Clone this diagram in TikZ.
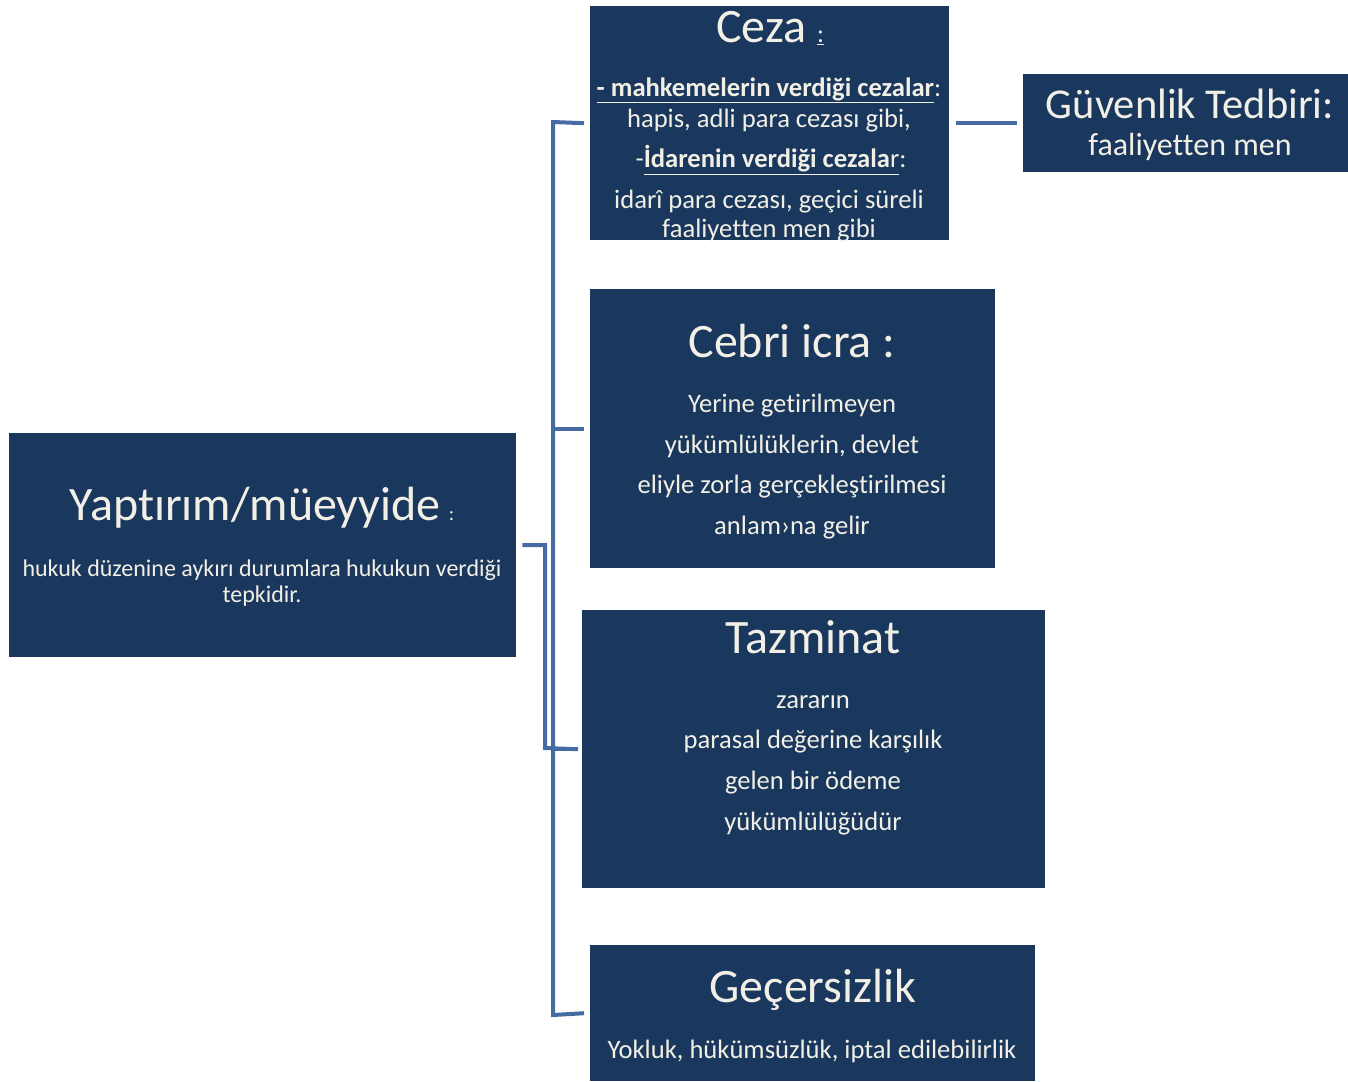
\documentclass[tikz,border=0pt]{standalone}
\usepackage{fontspec}
\setmainfont{Carlito}[RawFeature={-liga;-clig;-calt;-dlig}]
\usepackage{tikz}
\definecolor{nv}{RGB}{26, 55, 93}
\definecolor{ln}{RGB}{68, 108, 162}
\definecolor{tx}{RGB}{242, 240, 230}

\begin{document}
\begin{tikzpicture}[box/.style={anchor=north west, fill=nv, draw=none, inner sep=0pt},
  txt/.style={color=tx, inner sep=0pt, align=center},
  big/.style={txt, font=\fontsize{48}{54}\selectfont},
  small/.style={txt, font=\fontsize{26.6}{30}\selectfont},
  conn/.style={line width=4pt, color=ln}]
\useasboundingbox (0pt, 0pt) rectangle (1348pt, -1081pt);
\node (ceza) [box, minimum width=359pt, minimum height=234pt] at (590pt, -6pt) {};
\node (guv) [box, minimum width=325pt, minimum height=98pt] at (1023pt, -74pt) {};
\node (cebri) [box, minimum width=405pt, minimum height=279pt] at (590pt, -289pt) {};
\node (taz) [box, minimum width=463pt, minimum height=278pt] at (582pt, -610pt) {};
\node (gec) [box, minimum width=445pt, minimum height=136pt] at (590pt, -945pt) {};
\node (yap) [box, minimum width=507pt, minimum height=224pt] at (9pt, -433pt) {};
% spine
\coordinate (sT) at (553pt, -122pt);
\coordinate (sB) at (553pt, -1015pt);
\coordinate (kT) at (545pt, -545pt);
\coordinate (kB) at (545pt, -748pt);
\draw [conn] ([xshift=-6pt]ceza.west) -- (sT) -- (sB) -- ([xshift=-6pt]gec.west);
\draw [conn] (sT |- cebri.west) -- ([xshift=-6pt]cebri.west);
\draw [conn] (sT |- taz.west) -- ([xshift=-4pt]taz.west);
\draw [conn] ([xshift=6pt]yap.east) -- (kT) -- (kB) -- ([xshift=-4pt]taz.west);
\draw [conn] ([xshift=7pt]ceza.east) -- ([xshift=-6pt]guv.west);
% texts
\node (cezaA) [big] at (770pt, -28pt) {Ceza {\fontsize{26}{30}\selectfont\underline{:}}};
\node (cezaB) [small] at (769pt, -90pt) {\underline{\textbf{- mahkemelerin verdiği cezalar}}:};
\node (cezaC) [small] at (769pt, -121pt) {hapis, adli para cezası gibi,};
\node (cezaD) [small] at (771pt, -160pt) {-\underline{\textbf{İdarenin verdiği cezala}r}:};
\node (cezaE) [small] at (769pt, -202pt) {idarî para cezası, geçici süreli};
\node (cezaF) [small] at (769pt, -231pt) {faaliyetten men gibi};
\node (guvA) [txt, font=\fontsize{42.5}{48}\selectfont] at (1190pt, -104pt) {Güvenlik Tedbiri:};
\node (guvB) [txt, font=\fontsize{32}{36}\selectfont] at (1190pt, -147pt) {faaliyetten men};
\node (cebriA) [big] at (792pt, -341pt) {Cebri icra :};
\node (cebriB) [small] at (792pt, -406pt) {Yerine getirilmeyen};
\node (cebriC) [small] at (792pt, -446pt) {yükümlülüklerin, devlet};
\node (cebriD) [small] at (792pt, -487pt) {eliyle zorla gerçekleştirilmesi};
\node (cebriE) [small] at (792pt, -528pt) {anlam›na gelir};
\node (tazA) [big] at (813pt, -637pt) {Tazminat};
\node (tazB) [small] at (813pt, -702pt) {zararın};
\node (tazC) [small] at (813pt, -742pt) {parasal değerine karşılık};
\node (tazD) [small] at (813pt, -783pt) {gelen bir ödeme};
\node (tazE) [small] at (813pt, -824pt) {yükümlülüğüdür};
\node (gecA) [big] at (813pt, -990pt) {Geçersizlik};
\node (gecB) [small] at (812pt, -1051pt) {Yokluk, hükümsüzlük, iptal edilebilirlik};
\node (yapA) [big] at (262pt, -508pt) {Yaptırım/müeyyide\,{\fontsize{20}{22}\selectfont :}};
\node (yapB) [txt, font=\fontsize{24}{26}\selectfont] at (262pt, -583pt) {hukuk düzenine aykırı durumlara hukukun verdiği\\tepkidir.};
\end{tikzpicture}
\end{document}
